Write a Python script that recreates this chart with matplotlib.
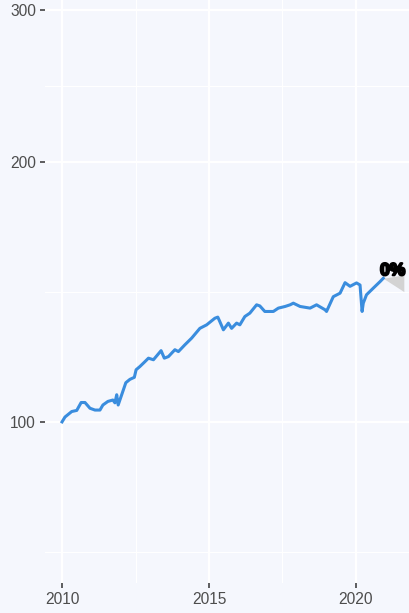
import numpy as np
import matplotlib
matplotlib.use("Agg")
import matplotlib.pyplot as plt
import matplotlib.patheffects as pe

plt.rcParams['font.family'] = ['Liberation Sans', 'DejaVu Sans']

# index level over time (decimal years)
years = [2010.00, 2010.10, 2010.33, 2010.50, 2010.65, 2010.78, 2010.95, 2011.12,
         2011.29, 2011.39, 2011.56, 2011.73, 2011.80, 2011.86, 2011.91, 2012.03,
         2012.17, 2012.31, 2012.46, 2012.52, 2012.65, 2012.82, 2012.94, 2013.11,
         2013.37, 2013.48, 2013.62, 2013.84, 2013.96, 2014.18, 2014.41, 2014.69,
         2014.92, 2015.20, 2015.30, 2015.37, 2015.49, 2015.66, 2015.77, 2015.94,
         2016.05, 2016.22, 2016.39, 2016.62, 2016.73, 2016.90, 2017.02, 2017.19,
         2017.36, 2017.59, 2017.76, 2017.87, 2018.10, 2018.44, 2018.66, 2018.95,
         2019.00, 2019.23, 2019.46, 2019.63, 2019.80, 2020.02, 2020.14, 2020.21,
         2020.25, 2020.36, 2020.59, 2020.82, 2020.93]
values = [100.0, 101.3, 102.8, 103.1, 105.3, 105.3, 103.7, 103.2,
          103.2, 104.6, 105.6, 106.0, 105.2, 107.5, 104.6, 107.5,
          111.0, 112.0, 112.6, 114.9, 115.9, 117.4, 118.5, 118.0,
          120.9, 118.5, 119.0, 121.2, 120.6, 122.8, 125.0, 128.3,
          129.5, 131.8, 132.2, 130.6, 127.8, 130.1, 128.3, 130.1,
          129.5, 132.4, 133.6, 136.6, 136.2, 134.2, 134.2, 134.2,
          135.4, 136.0, 136.6, 137.2, 136.0, 135.4, 136.6, 134.8,
          134.2, 139.6, 140.9, 144.9, 143.5, 144.8, 144.0, 134.2,
          137.2, 140.3, 142.8, 145.3, 146.6]

# projection cone after the last point
cone_years = [2020.93, 2021.63]
cone_low = [146.6, 141.5]
cone_high = [146.6, 148.0]
cone_label = "0%"

x_ticks = [2010, 2015, 2020]
x_minor = [2012.5, 2017.5]
y_ticks = [100, 200, 300]
y_minor = [70.7, 141.4, 244.9]

bg = "#f5f7fd"
fig = plt.figure(figsize=(4.1, 6.13), dpi=100, facecolor=bg)
ax = fig.add_axes([45/410, 30/613, 365/410, 583/613])
ax.set_facecolor(bg)
ax.set_yscale("log")
ax.set_xlim(2009.42, 2021.84)
ax.set_ylim(65.1, 307.7)

for v in y_minor:
    ax.axhline(v, color="white", lw=0.8, zorder=0)
for v in x_minor:
    ax.axvline(v, color="white", lw=0.8, zorder=0)
for v in y_ticks:
    ax.axhline(v, color="white", lw=1.6, zorder=0)
for v in x_ticks:
    ax.axvline(v, color="white", lw=1.6, zorder=0)

ax.fill_between(cone_years, cone_low, cone_high, color="#d3d3d3", lw=0, zorder=1)
ax.plot(years, values, color="#3a8dde", lw=2.2, zorder=2)

# heavy label drawn with a stroke so it looks doubled like the original
ax.text(2021.25, 149.6, cone_label, ha="center", va="center", fontsize=12.5,
        fontweight="bold", color="black", zorder=3,
        path_effects=[pe.withStroke(linewidth=1.6, foreground="black")])

ax.set_xticks(x_ticks)
ax.set_xticklabels([str(t) for t in x_ticks])
ax.set_yticks(y_ticks)
ax.set_yticklabels([str(t) for t in y_ticks])
ax.minorticks_off()
ax.tick_params(axis="both", colors="#333333", labelcolor="#4d4d4d", labelsize=11.2,
               length=3.5, width=1.1, pad=3)
for s in ax.spines.values():
    s.set_visible(False)

fig.savefig("out.png", dpi=100, facecolor=bg)
